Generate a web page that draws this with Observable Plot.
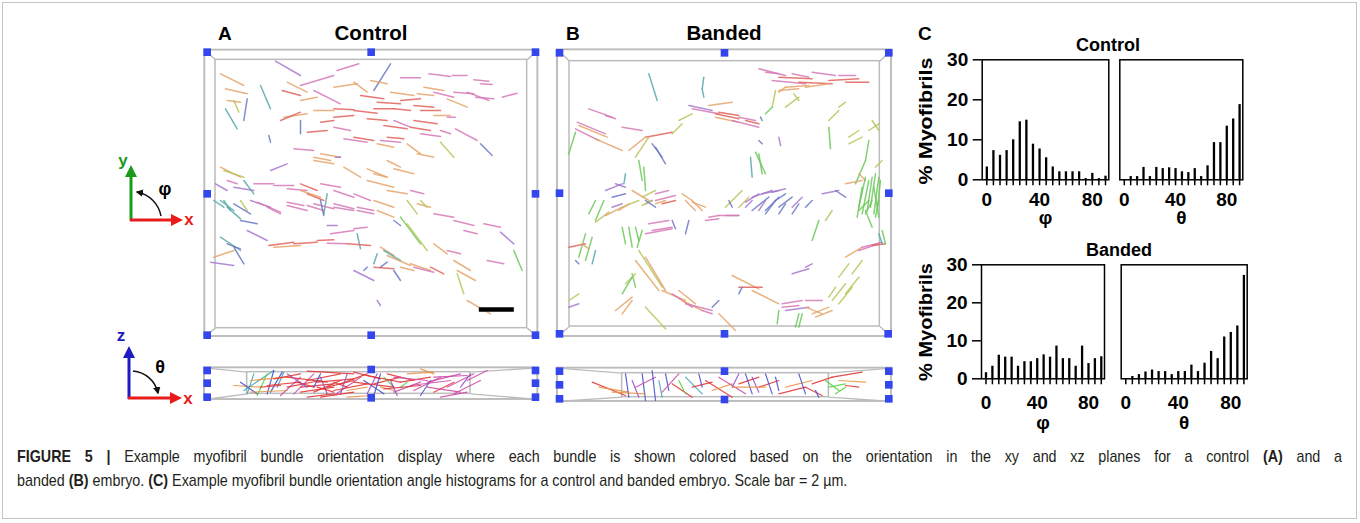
<!DOCTYPE html>
<html>
<head>
<meta charset="utf-8">
<script src="https://cdn.jsdelivr.net/npm/d3@7"></script>
<script src="https://cdn.jsdelivr.net/npm/@observablehq/plot@0.6"></script>
<style>
  html, body { margin: 0; padding: 0; background: #fff; }
  #fig { position: relative; width: 1360px; height: 523px; overflow: hidden; background: #fff;
         font-family: "Liberation Sans", Arial, sans-serif; }
  .abs { position: absolute; }
  svg { overflow: visible; }
</style>
</head>
<body>
<div id="fig">
<svg id="overlay" class="abs" width="1360" height="523" style="left:0;top:0">
  <defs>
    <marker id="ah" viewBox="0 0 10 10" refX="8" refY="5" markerWidth="5" markerHeight="5" orient="auto-start-reverse">
      <path d="M0,0 L10,5 L0,10 z" fill="#111"/>
    </marker>
  </defs>
  <rect x="2.5" y="2.5" width="1354" height="516" fill="none" stroke="#c4c4c4" stroke-width="1"/>
  <g font-family="Liberation Sans, Arial, sans-serif" font-weight="bold" fill="#000">
    <text x="218" y="40" font-size="19">A</text>
    <text x="371" y="40" font-size="20.5" text-anchor="middle">Control</text>
    <text x="566" y="40" font-size="19">B</text>
    <text x="724" y="40" font-size="20.5" text-anchor="middle">Banded</text>
    <text x="918" y="40" font-size="19">C</text>
    <text x="1108" y="51" font-size="18" text-anchor="middle">Control</text>
    <text x="1119" y="256" font-size="18" text-anchor="middle">Banded</text>
    <text x="932" y="121" font-size="19" text-anchor="middle" transform="rotate(-90,932,121)" textLength="127" lengthAdjust="spacingAndGlyphs">% Myofibrils</text>
    <text x="932" y="322" font-size="19" text-anchor="middle" transform="rotate(-90,932,322)" textLength="118" lengthAdjust="spacingAndGlyphs">% Myofibrils</text>
  </g>
  <!-- xy icon -->
  <g>
    <line x1="131" y1="221" x2="131" y2="176" stroke="#1a9a1a" stroke-width="3"/>
    <path d="M125,177 L131,165 L137,177 z" fill="#1a9a1a"/>
    <line x1="130" y1="220" x2="172" y2="220" stroke="#e81c1c" stroke-width="3"/>
    <path d="M171,214 L183,220 L171,226 z" fill="#e81c1c"/>
    <text x="123" y="166" font-size="17" font-weight="bold" fill="#1a9a1a" text-anchor="middle" font-family="Liberation Sans, Arial">y</text>
    <text x="189" y="225" font-size="17" font-weight="bold" fill="#e81c1c" text-anchor="middle" font-family="Liberation Sans, Arial">x</text>
    <text x="165" y="195" font-size="18" font-weight="bold" fill="#000" text-anchor="middle" font-family="Liberation Sans, Arial">φ</text>
    <path d="M161,216 A 30 30 0 0 0 137,192" fill="none" stroke="#111" stroke-width="1.5" marker-end="url(#ah)"/>
  </g>
  <!-- xz icon -->
  <g>
    <line x1="129" y1="399" x2="129" y2="357" stroke="#1c1cc0" stroke-width="3"/>
    <path d="M123,358 L129,346 L135,358 z" fill="#1c1cc0"/>
    <line x1="128" y1="398" x2="171" y2="398" stroke="#e81c1c" stroke-width="3"/>
    <path d="M170,392 L182,398 L170,404 z" fill="#e81c1c"/>
    <text x="121" y="341" font-size="17" font-weight="bold" fill="#1c1cc0" text-anchor="middle" font-family="Liberation Sans, Arial">z</text>
    <text x="188" y="404" font-size="17" font-weight="bold" fill="#e81c1c" text-anchor="middle" font-family="Liberation Sans, Arial">x</text>
    <text x="160" y="373" font-size="18" font-weight="bold" fill="#000" text-anchor="middle" font-family="Liberation Sans, Arial">θ</text>
    <path d="M133,371 A 28 28 0 0 1 158,393" fill="none" stroke="#111" stroke-width="1.5" marker-end="url(#ah)"/>
  </g>
  <!-- caption -->
  <g id="capg" font-family="Liberation Sans, Arial, sans-serif" font-size="16" fill="#231f20">
    <text id="cap1" x="0" y="462"><tspan font-weight="bold">FIGURE 5 |</tspan> Example myofibril bundle orientation display where each bundle is shown colored based on the orientation in the xy and xz planes for a control <tspan font-weight="bold">(A)</tspan> and a</text>
    <text id="cap2" x="0" y="486">banded <tspan font-weight="bold">(B)</tspan> embryo. <tspan font-weight="bold">(C)</tspan> Example myofibril bundle orientation angle histograms for a control and banded embryo. Scale bar = 2 µm.</text>
  </g>
</svg>
</div>
<script>
// ---------------- DATA ----------------
// Histogram bins (degrees) and % myofibrils per bin
const angleBins = [0,5,10,15,20,25,30,35,40,45,50,55,60,65,70,75,80,85,90];
const angleLabels = [0,40,80];
const pctTicks = [0,10,20,30];
const controlPhi   = [3.2,7.3,6.1,7.3,10,14.5,14.9,8.9,7.7,5.5,3.2,2,2,2,2,0.3,1.6,0.3,0.9];
const controlTheta = [0,0.8,0.8,3.1,0.8,3.1,2.8,3.0,2.8,2.0,1.8,2.8,0.8,3.5,9.3,9.3,13.4,15.2,18.8];
const bandedPhi    = [1.6,3.3,6.2,5.7,5.7,3.3,4.5,4.5,5.3,6.3,5.7,8.6,5.3,5.3,3.3,8.6,4.0,5.3,5.8];
const bandedTheta  = [0,0.6,1.1,1.8,2.3,1.9,1.9,1.1,1.9,1.9,3.6,1.9,4.1,7.2,5.3,11.0,12.2,13.9,27.2];

// Orientation colour classes of fibre segments
const colorKeys = ["r","o","m","p","y","g","t","b"];
const paletteXY = ["#e3625c","#e5a46a","#d579b6","#a679cc","#b9c55c","#6cc95a","#58a9aa","#6b78c6"];
const paletteXZ = ["#e22f2f","#e8913f","#cc45a6","#9249c9","#b1c23e","#4fd13e","#3fa1b3","#3f49cb"];

// Panel A (control), xy plane: [x1, y1, x2, y2, class] in image units
const fibersA = [
[525,122,600,165,"p"],[710,150,775,130,"m"],[600,195,700,165,"m"],[870,130,820,210,"b"],
[900,172,960,172,"m"],[985,160,1050,168,"m"],[1055,165,1100,165,"m"],[1120,178,1165,182,"m"],
[1140,190,1175,192,"m"],[360,160,430,195,"o"],[375,205,440,220,"o"],[480,195,510,265,"t"],
[380,240,420,245,"o"],[375,265,410,325,"t"],[440,235,430,300,"b"],[400,240,415,275,"y"],
[560,185,620,215,"o"],[545,210,600,225,"r"],[600,240,650,230,"o"],[550,290,620,280,"o"],
[540,300,600,275,"r"],[600,300,600,340,"b"],[505,345,510,365,"b"],[620,335,680,330,"r"],
[660,305,700,300,"r"],[700,290,760,285,"r"],[640,210,720,250,"m"],[700,200,770,190,"o"],
[760,185,800,215,"o"],[810,180,860,190,"o"],[780,225,850,235,"r"],[830,245,900,250,"r"],
[870,215,940,225,"o"],[900,240,960,235,"r"],[950,220,1000,225,"o"],[970,200,1030,210,"o"],
[1000,215,1060,230,"m"],[1040,235,1100,260,"o"],[1060,215,1120,220,"m"],[1100,215,1165,240,"m"],
[1125,230,1180,235,"m"],[1205,230,1250,218,"m"],[940,255,1000,260,"r"],[820,265,880,265,"r"],
[880,265,930,270,"r"],[960,270,1020,270,"r"],[1000,285,1050,285,"o"],[1040,290,1065,290,"m"],
[700,265,760,268,"r"],[640,270,700,270,"o"],[760,270,830,278,"r"],[800,295,860,300,"r"],
[850,315,920,325,"r"],[880,300,930,320,"m"],[930,320,990,330,"r"],[940,300,1010,310,"r"],
[960,340,1020,348,"m"],[1020,330,1050,340,"m"],[700,320,750,330,"m"],[730,355,800,365,"m"],
[760,350,820,360,"r"],[840,360,900,365,"m"],[860,350,910,355,"r"],[830,370,880,380,"o"],
[1065,325,1130,360,"m"],[1140,370,1175,405,"b"],[1020,365,1060,410,"y"],[920,370,960,400,"o"],
[950,400,1000,410,"o"],[580,385,640,390,"m"],[640,410,690,420,"o"],[660,400,720,410,"o"],
[705,410,720,410,"p"],[640,420,700,430,"o"],[730,440,780,470,"o"],[800,445,860,470,"o"],
[860,420,900,440,"o"],[880,445,940,460,"o"],[360,440,420,470,"o"],[370,450,430,470,"y"],
[345,490,380,510,"p"],[380,480,410,490,"m"],[400,500,460,510,"p"],[430,480,460,520,"t"],
[460,490,520,490,"m"],[510,450,560,430,"p"],[520,495,580,495,"m"],[560,505,620,510,"m"],
[600,490,650,510,"r"],[600,510,660,530,"o"],[620,520,670,540,"r"],[680,520,670,580,"t"],
[660,490,720,500,"m"],[700,510,760,530,"m"],[760,520,810,540,"m"],[820,460,860,470,"o"],
[800,480,880,500,"o"],[860,510,920,520,"o"],[930,510,970,520,"m"],[820,540,880,560,"o"],
[920,540,950,580,"y"],[950,550,990,560,"o"],[340,540,370,560,"t"],[370,540,390,570,"t"],
[400,550,450,580,"b"],[450,540,510,560,"p"],[500,560,540,580,"m"],[560,545,610,555,"m"],
[620,555,670,570,"m"],[700,560,760,570,"m"],[770,570,820,580,"m"],
[360,540,400,570,"t"],[380,560,420,595,"t"],[420,540,440,570,"y"],[470,545,540,575,"m"],
[560,555,620,570,"m"],[640,550,700,565,"m"],[660,540,670,585,"b"],[700,550,760,565,"m"],
[770,560,820,570,"m"],[830,570,880,590,"o"],[880,600,900,615,"b"],[900,590,960,670,"g"],
[920,610,980,690,"y"],[960,540,980,560,"y"],[1000,580,1060,590,"m"],[1060,600,1120,615,"m"],
[1090,630,1130,640,"m"],[1150,610,1200,620,"m"],[1200,635,1240,670,"p"],[1240,690,1265,750,"g"],
[420,600,470,610,"b"],[440,630,500,660,"p"],[680,615,710,615,"p"],[690,640,760,630,"m"],
[760,625,800,620,"m"],[770,640,780,685,"t"],[505,675,580,665,"r"],[520,680,600,675,"o"],
[580,670,650,665,"r"],[650,660,700,658,"r"],[680,668,740,670,"m"],[740,670,810,675,"r"],
[840,680,880,705,"o"],[850,690,900,720,"t"],[860,705,930,735,"o"],[930,730,990,750,"o"],
[990,740,1030,760,"r"],[1000,670,1040,700,"o"],[1040,690,1080,700,"m"],[1060,720,1110,750,"o"],
[1070,750,1125,780,"o"],[1070,760,1090,820,"y"],[1100,840,1170,880,"o"],[1160,720,1210,730,"m"],
[360,650,420,690,"t"],[380,670,420,685,"b"],[400,680,430,730,"b"],[340,710,400,690,"o"],
[330,725,400,735,"p"],[830,700,820,730,"t"],[820,740,880,745,"r"],[840,740,860,725,"b"],
[760,750,820,780,"p"],[790,750,800,740,"b"],[880,750,900,780,"b"],[900,740,940,750,"o"],
[940,740,1000,755,"m"],[830,840,840,855,"p"]
];
const scaleBarA = [[1135,867,1240,867]];

// Panel A (control), xz plane
const fibersAxz = [
[400,555,480,560,"o"],[420,545,470,580,"b"],[430,570,520,510,"t"],[440,580,460,520,"t"],
[470,585,500,520,"g"],[500,580,520,510,"b"],[510,575,545,515,"b"],[530,560,550,515,"t"],
[540,585,600,530,"m"],[560,560,660,540,"r"],[580,580,640,520,"m"],[600,560,700,550,"r"],
[620,540,720,520,"r"],[640,575,720,540,"r"],[660,530,680,580,"p"],[680,560,760,540,"r"],
[700,585,780,530,"m"],[720,550,800,520,"r"],[740,570,800,560,"o"],[760,515,840,535,"r"],
[790,540,850,580,"b"],[800,580,830,520,"p"],[820,550,900,530,"r"],[840,560,880,570,"o"],
[860,520,940,540,"r"],[880,575,960,545,"m"],[900,545,990,530,"r"],[920,520,1000,515,"o"],
[940,570,1020,530,"m"],[960,585,990,540,"b"],[980,545,1080,520,"m"],[1000,575,1060,545,"r"],
[1040,560,1120,520,"m"],[1060,580,1140,540,"m"],[1100,540,1160,510,"m"],[620,512,760,520,"r"],
[450,540,560,530,"o"],[480,560,540,555,"r"],[590,545,640,560,"r"],[650,560,700,575,"r"],
[700,545,740,560,"r"],[850,530,880,560,"g"],[900,560,920,545,"g"],[620,590,700,580,"r"],
[740,590,820,585,"o"],[1020,590,1100,575,"m"],[960,505,1000,520,"o"],
[560,530,680,545,"r"],[600,575,700,560,"r"],[650,545,760,535,"r"],[700,570,800,550,"r"],
[760,545,880,560,"r"],[800,525,900,545,"r"],[850,565,960,555,"r"],[880,530,980,540,"m"],
[930,555,1050,540,"m"],[1000,530,1100,525,"m"],[980,560,1080,575,"m"],[560,520,620,560,"p"],
[640,560,660,520,"b"],[720,580,740,520,"p"],[820,585,840,520,"b"],[870,540,890,585,"p"],
[1080,560,1110,520,"p"],[500,555,600,545,"r"],[450,575,560,570,"o"],[520,535,600,520,"r"],
[660,590,760,575,"r"]
];

// Panel B (banded), xy plane
const fibersB = [
[310,160,335,240,"t"],[475,170,470,205,"t"],[470,205,475,230,"t"],[640,145,720,165,"m"],
[660,155,700,160,"m"],[680,180,780,190,"m"],[700,170,800,175,"r"],[740,160,790,170,"m"],
[800,155,870,165,"m"],[880,165,930,165,"m"],[760,185,860,190,"r"],[850,180,940,175,"r"],
[900,185,970,185,"r"],[720,200,790,195,"o"],[700,210,760,205,"o"],[780,200,850,190,"o"],
[700,215,720,200,"o"],[690,210,680,260,"y"],[660,280,680,260,"g"],[745,220,760,240,"y"],
[720,260,760,230,"y"],[880,260,900,245,"y"],[850,300,880,270,"y"],[850,320,855,385,"g"],
[130,265,200,290,"m"],[180,285,210,295,"m"],[95,305,180,340,"m"],[100,315,185,350,"o"],
[90,325,160,360,"m"],[150,355,230,390,"o"],[230,320,290,330,"m"],[90,335,70,400,"g"],
[430,255,500,270,"p"],[440,265,520,280,"m"],[490,255,560,245,"o"],[510,280,580,295,"r"],
[510,290,580,305,"o"],[520,275,580,285,"r"],[560,300,640,320,"m"],[580,290,630,300,"m"],
[600,300,640,310,"r"],[645,290,650,300,"b"],[400,300,440,280,"y"],[380,340,410,310,"y"],
[300,350,380,335,"r"],[250,390,300,350,"o"],[270,410,310,350,"y"],[330,380,360,430,"b"],
[320,370,350,410,"b"],[280,420,290,480,"g"],[295,440,300,510,"g"],[240,460,235,490,"t"],
[210,490,240,500,"p"],[640,360,650,370,"b"],[700,350,705,375,"p"],[615,410,620,470,"t"],
[630,395,660,460,"g"],[640,400,650,460,"g"],[910,350,940,330,"y"],[910,370,950,350,"y"],
[970,360,960,420,"g"],[960,420,930,490,"g"],[940,460,960,480,"o"],[900,490,950,480,"o"],
[980,300,1000,330,"y"],[970,330,1000,310,"y"],[990,440,1010,420,"y"],[960,470,940,560,"g"],
[970,480,950,580,"g"],[980,470,965,570,"g"],[990,460,975,560,"g"],[1000,470,985,580,"g"],
[1005,480,995,570,"g"],[950,500,935,590,"g"],[985,500,1000,590,"g"],[175,540,150,600,"g"],
[180,510,230,490,"p"],[200,530,240,520,"b"],[230,560,280,540,"y"],[260,510,310,540,"o"],
[290,530,330,510,"y"],[300,550,320,540,"b"],[330,520,370,510,"m"],[330,540,390,525,"m"],
[350,550,390,540,"r"],[410,520,440,540,"o"],[440,545,480,560,"o"],[540,560,590,510,"y"],
[580,560,610,530,"y"],[600,545,640,520,"p"],[620,530,680,510,"p"],[650,520,700,510,"p"],
[680,515,720,505,"p"],[690,540,720,520,"b"],[620,570,670,530,"b"],[660,570,700,530,"b"],
[700,560,740,530,"b"],[740,560,770,530,"p"],[780,560,800,540,"b"],[830,520,880,510,"p"],
[870,510,900,530,"b"],[490,590,520,585,"m"],[540,585,580,585,"m"],
[130,580,150,540,"g"],[150,605,190,575,"y"],[180,585,230,560,"o"],[200,560,230,550,"p"],
[220,570,250,550,"o"],[290,555,320,540,"y"],[300,540,330,560,"b"],[330,550,360,540,"o"],
[420,540,450,570,"o"],[440,540,470,570,"o"],[550,540,560,560,"b"],[600,560,620,540,"p"],
[640,570,660,540,"p"],[660,580,690,540,"b"],[700,580,720,550,"b"],[740,580,760,550,"b"],
[480,600,520,595,"m"],[520,585,580,585,"m"],[310,610,370,600,"m"],[300,640,380,625,"m"],
[320,630,380,620,"m"],[380,600,390,625,"b"],[430,600,420,640,"b"],[230,620,240,670,"g"],
[250,620,260,680,"g"],[270,620,280,660,"g"],[290,630,275,680,"g"],[120,640,100,710,"g"],
[140,650,120,720,"g"],[150,690,140,730,"t"],[70,680,120,670,"r"],[110,670,130,685,"o"],
[90,720,100,730,"b"],[280,690,350,800,"y"],[300,710,360,810,"o"],[270,720,340,810,"o"],
[260,760,270,800,"g"],[240,790,270,760,"y"],[230,820,260,770,"g"],[210,870,260,830,"o"],
[230,880,260,840,"o"],[300,860,360,925,"y"],[350,810,420,840,"o"],[400,810,450,850,"o"],
[380,820,440,860,"m"],[410,840,470,870,"o"],[420,850,500,870,"m"],[470,870,500,880,"m"],
[500,860,520,840,"b"],[520,880,570,930,"o"],[560,765,640,805,"o"],[580,800,650,800,"r"],
[580,820,590,800,"b"],[620,810,700,850,"o"],[700,870,695,910,"g"],[710,850,770,840,"m"],
[710,860,760,855,"m"],[720,870,790,860,"p"],[780,840,830,840,"m"],[780,860,830,880,"o"],
[800,880,850,860,"o"],[810,890,860,870,"o"],[760,880,750,920,"g"],[770,880,760,920,"g"],
[850,830,870,800,"y"],[860,840,900,790,"y"],[880,850,920,800,"y"],[900,820,940,770,"y"],
[880,770,910,730,"y"],[920,760,950,720,"y"],[900,710,950,680,"o"],[940,690,1000,670,"m"],
[950,680,1010,665,"m"],[980,675,1020,670,"r"],[980,620,960,570,"g"],[1000,640,1010,670,"t"],
[940,570,970,540,"g"],[960,580,980,540,"g"],[990,590,1000,540,"g"],[1010,630,1020,670,"g"],
[800,660,820,600,"g"],[840,600,860,570,"y"],[740,760,790,745,"p"],[780,740,800,730,"p"],
[70,840,100,820,"y"],[70,860,100,850,"p"]
];

// Panel B (banded), xz plane
const fibersBxz = [
[140,545,240,585,"r"],[160,560,250,575,"o"],[240,520,250,590,"b"],[260,540,280,590,"p"],
[290,520,300,600,"b"],[270,560,330,530,"m"],[320,510,330,600,"b"],[340,540,350,590,"t"],
[360,520,370,570,"b"],[350,575,400,520,"m"],[380,550,440,590,"r"],[400,540,420,580,"g"],
[420,530,470,580,"t"],[440,560,500,545,"r"],[460,520,470,560,"b"],[480,540,560,590,"r"],
[500,570,560,550,"o"],[520,530,600,580,"m"],[560,560,580,520,"p"],[580,550,640,530,"r"],
[600,520,620,580,"b"],[620,530,640,575,"p"],[640,560,700,540,"r"],[660,520,680,580,"b"],
[690,530,700,570,"b"],[700,580,780,560,"r"],[720,560,800,540,"o"],[760,520,780,580,"b"],
[780,560,830,585,"r"],[800,550,860,530,"r"],[810,570,820,590,"b"],[840,540,880,570,"g"],
[850,560,900,550,"g"],[860,530,950,515,"r"],[870,580,900,560,"g"],[880,540,960,545,"o"],
[900,555,940,560,"r"],[200,575,300,580,"o"],[560,560,660,560,"o"]
];

// Viewing-box outlines (outer frame, inner frame) and handle positions
const boxA   = {outer: [313,89,1312,948], inner: [345,118,1280,923]};
const handlesA = [[320,95],[812,95],[1305,95],[320,520],[1305,520],[320,944],[812,944],[1305,944]];
const boxAxz = {outer: [312,502,1312,597], inner: [440,515,1110,580]};
const handlesAxz = [[320,510],[320,548],[320,590],[812,507],[812,592],[1305,510],[1305,548],[1305,590]];
const boxB   = {outer: [36,88,1038,948], inner: [72,122,1003,918]};
const handlesB = [[42,97],[537,97],[1030,97],[42,518],[1030,518],[42,940],[537,940],[1028,940]];
const boxBxz = {outer: [36,503,1038,603], inner: [230,518,850,590]};
const handlesBxz = [[42,512],[42,553],[42,595],[537,512],[537,597],[1030,512],[1030,553],[1030,595]];

// ---------------- DRAWING ----------------
const fig = document.getElementById("fig");
function place(node, left, top) {
  node.style.position = "absolute";
  node.style.left = left + "px";
  node.style.top = top + "px";
  fig.appendChild(node);
}

function fiberPlot({segs, box, handles, xDomain, yDomain, palette, bar, sw, op}) {
  const w = (xDomain[1] - xDomain[0]) / 3;
  const h = (yDomain[1] - yDomain[0]) / 3;
  const [ox1, oy1, ox2, oy2] = box.outer;
  const [ix1, iy1, ix2, iy2] = box.inner;
  const corners = [[ox1,oy1,ix1,iy1],[ox2,oy1,ix2,iy1],[ox1,oy2,ix1,iy2],[ox2,oy2,ix2,iy2]];
  const marks = [
    Plot.rect([box.outer], {x1: d => d[0], y1: d => d[1], x2: d => d[2], y2: d => d[3], fill: "none", stroke: "#bcbcbc", strokeWidth: 1.9}),
    Plot.rect([box.inner], {x1: d => d[0], y1: d => d[1], x2: d => d[2], y2: d => d[3], fill: "none", stroke: "#bcbcbc", strokeWidth: 1.5}),
    Plot.link(corners, {x1: d => d[0], y1: d => d[1], x2: d => d[2], y2: d => d[3], stroke: "#bcbcbc", strokeWidth: 1.4}),
    Plot.link(segs, {x1: d => d[0], y1: d => d[1], x2: d => d[2], y2: d => d[3], stroke: d => d[4], strokeWidth: sw, strokeOpacity: op, strokeLinecap: "round"}),
    Plot.dot(handles, {x: d => d[0], y: d => d[1], symbol: "square", r: 4.3, fill: "#3446ee", stroke: "none"})
  ];
  if (bar) marks.push(Plot.link(bar, {x1: d => d[0], y1: d => d[1], x2: d => d[2], y2: d => d[3], stroke: "#000", strokeWidth: 4.5}));
  return Plot.plot({
    width: w, height: h, margin: 0,
    x: {domain: xDomain, axis: null},
    y: {domain: [yDomain[1], yDomain[0]], axis: null},
    color: {domain: colorKeys, range: palette},
    style: {background: "transparent", overflow: "visible"},
    marks
  });
}

place(fiberPlot({segs: fibersA, box: boxA, handles: handlesA, xDomain: [288,1338], yDomain: [66,975], palette: paletteXY, bar: scaleBarA, sw: 1.5, op: 0.85}), 196, 42);
place(fiberPlot({segs: fibersB, box: boxB, handles: handlesB, xDomain: [9,1065], yDomain: [66,975], palette: paletteXY, sw: 1.5, op: 0.85}), 548, 42);
place(fiberPlot({segs: fibersAxz, box: boxAxz, handles: handlesAxz, xDomain: [288,1338], yDomain: [480,618], palette: paletteXZ, sw: 1.2, op: 0.85}), 196, 360);
place(fiberPlot({segs: fibersBxz, box: boxBxz, handles: handlesBxz, xDomain: [9,1065], yDomain: [480,618], palette: paletteXZ, sw: 1.2, op: 0.85}), 548, 360);

function histPlot({values, frameW, frameH, ml, mr, showY, label, tickPad, labelDy}) {
  const data = angleBins.map((b, i) => ({b, v: values[i]}));
  const marks = [
    Plot.frame({stroke: "#000", strokeWidth: 1.5}),
    Plot.ruleX(data, {x: "b", y1: 0, y2: "v", stroke: "#000", strokeWidth: 2.3}),
    Plot.axisX({ticks: angleBins, tickSize: 6, tickPadding: tickPad, strokeWidth: 1.5,
      tickFormat: d => angleLabels.includes(d) ? String(d) : "", label: null}),
    Plot.text([label], {frameAnchor: "bottom", dy: labelDy, fontSize: 19, fontWeight: "bold", fill: "#000"})
  ];
  if (showY) marks.push(Plot.axisY({ticks: pctTicks, tickSize: 9, tickPadding: 5, strokeWidth: 1.5, label: null}));
  return Plot.plot({
    width: ml + frameW + mr, height: 9.3 + frameH + 60,
    marginLeft: ml, marginRight: mr, marginTop: 9.3, marginBottom: 60,
    x: {domain: [-3.5, 92.5], axis: null},
    y: {domain: [0, 30], axis: null},
    style: {background: "transparent", overflow: "visible", color: "#000",
            fontFamily: "Liberation Sans, Arial, sans-serif", fontWeight: "bold", fontSize: "19px"},
    marks
  });
}

place(histPlot({values: controlPhi, frameW: 126.6, frameH: 120, ml: 51.7, mr: 4, showY: true, label: "φ", tickPad: 7, labelDy: 44}), 930, 50);
place(histPlot({values: controlTheta, frameW: 123, frameH: 120, ml: 7.3, mr: 6, showY: false, label: "θ", tickPad: 7, labelDy: 44}), 1112, 50);
place(histPlot({values: bandedPhi, frameW: 123, frameH: 114, ml: 51, mr: 6, showY: true, label: "φ", tickPad: 11, labelDy: 50}), 930, 255);
place(histPlot({values: bandedTheta, frameW: 126, frameH: 114, ml: 8.7, mr: 5, showY: false, label: "θ", tickPad: 11, labelDy: 50}), 1112, 255);

// Caption: narrow (condensed) glyphs; 2nd line ends near x=848, 1st line justified to x=1342
(function fitCaption() {
  const g = document.getElementById("capg");
  const c1 = document.getElementById("cap1");
  const c2 = document.getElementById("cap2");
  const w2 = c2.getComputedTextLength();
  const s = 831 / w2;
  g.setAttribute("transform", `translate(17,0) scale(${s},1)`);
  const w1 = c1.getComputedTextLength();
  const spaces = (c1.textContent.match(/ /g) || []).length;
  const target = 1325 / s;
  if (w1 < target) c1.setAttribute("word-spacing", (target - w1) / spaces);
  else { c1.setAttribute("textLength", target); c1.setAttribute("lengthAdjust", "spacingAndGlyphs"); }
})();
</script>
</body>
</html>
